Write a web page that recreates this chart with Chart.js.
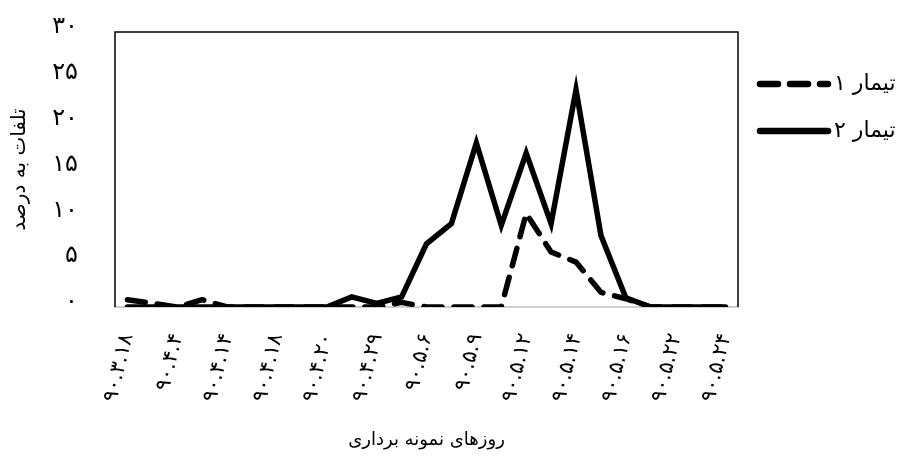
<!DOCTYPE html>
<html>
<head>
<meta charset="utf-8">
<script src="https://cdn.jsdelivr.net/npm/chart.js@4.4.1/dist/chart.umd.min.js"></script>
<style>
  html, body { margin: 0; padding: 0; background: #fff; }
  #wrap { width: 900px; height: 461px; position: relative; }
</style>
</head>
<body>
<div id="wrap"><canvas id="c"></canvas></div>
<script>
// Visible sampling-date labels (every other category is unlabelled on the axis)
const dateLabels = ['۹۰.۳.۱۸','۹۰.۴.۴','۹۰.۴.۱۴','۹۰.۴.۱۸','۹۰.۴.۲۰','۹۰.۴.۲۹','۹۰.۵.۶','۹۰.۵.۹','۹۰.۵.۱۲','۹۰.۵.۱۴','۹۰.۵.۱۶','۹۰.۵.۲۲','۹۰.۵.۲۴'];
const seriesNames = ['تیمار ۱', 'تیمار ۲'];
const treatment1 = [0.8,0.4,0,0.8,0,0,0,0,0,0,0,0.5,0,0,0,0,10.2,6.0,4.9,1.6,0.9,0,0,0,0];
const treatment2 = [0,0,0,0,0,0,0,0,0,1.1,0.4,1.1,6.9,9.1,17.9,8.9,16.8,9.1,23.7,7.8,1.0,0,0,0,0];
const yTickLabels = ['۰','۵','۱۰','۱۵','۲۰','۲۵','۳۰'];
const yTitle = 'تلفات به درصد';
const xTitle = 'روزهای نمونه برداری';

const categories = [];
dateLabels.forEach((d, i) => { categories.push(d); if (i < dateLabels.length - 1) categories.push(''); });

const FONT = "'DejaVu Sans', sans-serif";

const frame = {
  id: 'frame',
  afterDraw(chart) {
    const { ctx, chartArea: a } = chart;
    ctx.save();
    ctx.strokeStyle = '#000';
    ctx.lineWidth = 1.5;
    ctx.beginPath();
    ctx.moveTo(a.left, a.bottom);
    ctx.lineTo(a.left, a.top);
    ctx.lineTo(a.right, a.top);
    ctx.lineTo(a.right, a.bottom);
    ctx.stroke();
    ctx.restore();
  }
};

const legendPlugin = {
  id: 'customLegend',
  afterDraw(chart) {
    const { ctx } = chart;
    const rows = [84, 131];
    chart.data.datasets.forEach((ds, i) => {
      const y = rows[i];
      ctx.save();
      ctx.strokeStyle = '#000';
      ctx.lineWidth = 6.5;
      ctx.lineCap = 'round';
      ctx.setLineDash(ds.borderDash || []);
      ctx.beginPath();
      ctx.moveTo(760, y);
      ctx.lineTo(828, y);
      ctx.stroke();
      ctx.setLineDash([]);
      ctx.fillStyle = '#000';
      ctx.font = '22px ' + FONT;
      ctx.textAlign = 'left';
      ctx.textBaseline = 'middle';
      ctx.fillText(ds.label, 834, y);
      ctx.restore();
    });
  }
};

new Chart(document.getElementById('c'), {
  type: 'line',
  data: {
    labels: categories,
    datasets: [
      { label: seriesNames[0], data: treatment1, borderColor: '#000', borderWidth: 5.5,
        borderDash: [18, 12], borderCapStyle: 'round', borderJoinStyle: 'round',
        pointRadius: 0, tension: 0, fill: false },
      { label: seriesNames[1], data: treatment2, borderColor: '#000', borderWidth: 5.5,
        borderCapStyle: 'round', borderJoinStyle: 'miter',
        pointRadius: 0, tension: 0, fill: false }
    ]
  },
  options: {
    responsive: true,
    maintainAspectRatio: false,
    animation: false,
    layout: { padding: { top: 32, right: 162, left: 0, bottom: 0 } },
    plugins: { legend: { display: false }, tooltip: { enabled: false } },
    scales: {
      x: {
        type: 'category',
        offset: true,
        grid: { display: false, drawTicks: false },
        border: { display: true, color: '#d0d0d0', width: 2 },
        ticks: {
          autoSkip: false, maxRotation: 76, minRotation: 76,
          padding: 24, color: '#000',
          font: { family: FONT, size: 21 }
        },
        title: { display: true, text: xTitle, color: '#000', font: { family: FONT, size: 18 },
                 padding: { top: 0, bottom: 10 } },
        afterFit(s) { s.height = 154; s.paddingLeft = 0; s.paddingRight = 0; }
      },
      y: {
        min: 0, max: 30,
        grid: { display: false, drawTicks: false },
        border: { display: false },
        ticks: {
          stepSize: 5, padding: 37, color: '#000', labelOffset: -5,
          font: { family: FONT, size: 24 },
          callback: (v) => yTickLabels[Math.round(v / 5)]
        },
        title: { display: true, text: yTitle, color: '#000', font: { family: FONT, size: 20 },
                 padding: { top: 8, bottom: 0 } },
        afterFit(s) { s.width = 115; s.paddingTop = 0; s.paddingBottom = 0; }
      }
    }
  }
  ,plugins: [frame, legendPlugin]
});
</script>
</body>
</html>
